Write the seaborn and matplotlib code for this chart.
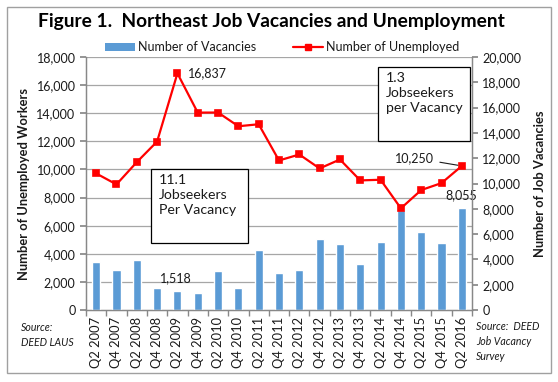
import numpy as np
import pandas as pd
import seaborn as sns
import matplotlib
matplotlib.use("Agg")
import matplotlib.pyplot as plt
import matplotlib.transforms as mtrans
from matplotlib.patches import Rectangle, Patch
from matplotlib.lines import Line2D

quarters = ["Q2 2007", "Q4 2007", "Q2 2008", "Q4 2008", "Q2 2009", "Q4 2009",
            "Q2 2010", "Q4 2010", "Q2 2011", "Q4 2011", "Q2 2012", "Q4 2012",
            "Q2 2013", "Q4 2013", "Q2 2014", "Q4 2014", "Q2 2015", "Q4 2015",
            "Q2 2016"]
vacancies = [3811, 3180, 3968, 1761, 1518, 1367, 3101, 1761, 4757, 2943,
             3180, 5624, 5230, 3653, 5388, 7911, 6176, 5309, 8055]
unemployed = [9716, 8936, 10520, 11986, 16837, 14043, 14050, 13073, 13215, 10638,
              11064, 10071, 10709, 9220, 9267, 7234, 8534, 9031, 10250]
left_ticks = list(range(0, 18001, 2000))
right_ticks = list(range(0, 20001, 2000))

df = pd.DataFrame({"quarter": quarters, "vacancies": vacancies, "unemployed": unemployed})

sns.set_theme(style="white")
plt.rcParams["font.family"] = ["Lato", "DejaVu Sans"]

W, H = 558, 382
fig = plt.figure(figsize=(W / 100, H / 100), dpi=100)
L, R, T, B = 86, 472, 57, 310
ax = fig.add_axes([L / W, 1 - B / H, (R - L) / W, (B - T) / H])
ax2 = ax.twinx()

bar_color = "#5B9BD5"
line_color = "#FF0000"
grid_color = "#A6A6A6"
text_color = "#1a1a1a"

sns.barplot(data=df, x="quarter", y="vacancies", ax=ax2, color=bar_color,
            width=0.4, saturation=1, zorder=3)
sns.pointplot(data=df, x="quarter", y="unemployed", ax=ax, color=line_color,
              markers="s", markersize=5, linewidth=1.6, errorbar=None)

ax.set_ylim(0, 18000)
ax2.set_ylim(0, 20000)
ax.set_xlim(-0.5, len(quarters) - 0.5)
ax.set_zorder(ax2.get_zorder() + 1)
ax.patch.set_visible(False)
ax2.patch.set_visible(False)

# gridlines at left-axis ticks drawn behind bars
tr = mtrans.blended_transform_factory(ax2.transAxes, ax.transData)
for v in left_ticks[1:]:
    ax2.plot([0, 1], [v, v], transform=tr, color=grid_color, lw=0.9, zorder=1)

ax.set_yticks(left_ticks)
ax.set_yticklabels([f"{v:,}" for v in left_ticks])
ax2.set_yticks(right_ticks)
ax2.set_yticklabels([f"{v:,}" for v in right_ticks])

ax.set_xticks(range(len(quarters)))
ax.set_xticklabels(quarters, rotation=90)
ax.set_xticks(np.arange(-0.5, len(quarters), 1), minor=True)
ax.tick_params(axis="x", which="major", length=0, pad=5, labelsize=9.3, colors=text_color)
ax.tick_params(axis="x", which="minor", length=4, color="#888888", direction="out", bottom=True)
ax.tick_params(axis="y", length=4, color="#888888", direction="out", labelsize=9,
               colors=text_color, left=True)
ax2.tick_params(axis="y", length=4, color="#888888", direction="out", labelsize=9,
                colors=text_color, right=True)
for a in (ax, ax2):
    a.tick_params(axis="y", colors="#888888", labelcolor=text_color)
    a.set_xlabel("")
    a.set_ylabel("")
    a.grid(False)
    a.spines["top"].set_visible(False)
    for s in ["left", "right", "bottom"]:
        a.spines[s].set_color("#888888")
        a.spines[s].set_linewidth(0.9)
ax2.tick_params(axis="x", length=0)

ax.set_ylabel("Number of Unemployed Workers", fontsize=9.3, fontweight="bold",
              color=text_color, labelpad=5)
ax2.set_ylabel("Number of Job Vacancies", fontsize=9.3, fontweight="bold",
               color=text_color, labelpad=9)

# data labels
ax.annotate(f"{unemployed[4]:,}", xy=(4, unemployed[4]), xytext=(11, 0),
            textcoords="offset pixels", ha="left", va="center", fontsize=9,
            color=text_color)
ax2.annotate(f"{vacancies[4]:,}", xy=(4, vacancies[4]), xytext=(-2, 13),
             textcoords="offset pixels", ha="center", va="center", fontsize=9,
             color=text_color)
ax2.annotate(f"{vacancies[18]:,}", xy=(18, vacancies[18]), xytext=(-1, 13),
             textcoords="offset pixels", ha="center", va="center", fontsize=9,
             color=text_color, zorder=5)
ax.annotate(f"{unemployed[18]:,}", xy=(18, unemployed[18]), xytext=(-28, 8),
            textcoords="offset pixels", ha="right", va="center", fontsize=9,
            color=text_color,
            arrowprops=dict(arrowstyle="-", color=text_color, lw=0.8,
                            shrinkA=2, shrinkB=3))

def fx(x):
    return x / W

def fy(y):
    return 1 - y / H

# text boxes
for (x0, y0, x1, y1, txt) in [
        (151, 169, 248, 243, "11.1\nJobseekers\nPer Vacancy"),
        (378, 67, 470, 141, "1.3\nJobseekers\nper Vacancy")]:
    fig.patches.append(Rectangle((fx(x0), fy(y1)), fx(x1 - x0), (y1 - y0) / H,
                                 transform=fig.transFigure, fill=True,
                                 facecolor="white", edgecolor="black", lw=0.9,
                                 zorder=10))
    fig.text(fx(x0 + 8), fy(y0 + 5), txt, ha="left", va="top", fontsize=10.2,
             color=text_color, linespacing=1.3, zorder=11)

# title
fig.text(fx(38), fy(21), "Figure 1.  Northeast Job Vacancies and Unemployment",
         ha="left", va="center", fontsize=13.8, fontweight="bold", color="black")

# legend
handles = [Patch(facecolor=bar_color, edgecolor="none"),
           Line2D([], [], color=line_color, lw=1.6, marker="s", markersize=5)]
fig.legend(handles, ["Number of Vacancies", "Number of Unemployed"],
           loc="center", bbox_to_anchor=(fx(282), fy(47)), ncol=2, frameon=False,
           fontsize=9, handlelength=2.4, handleheight=0.6, handletextpad=0.25,
           columnspacing=2.9, labelcolor=text_color)

# sources
fig.text(fx(21), fy(322), "Source:\nDEED LAUS", ha="left", va="top", fontsize=7.6,
         style="italic", color=text_color, linespacing=1.45)
fig.text(fx(476), fy(321), "Source:  DEED\nJob Vacancy\nSurvey", ha="left", va="top",
         fontsize=7.6, style="italic", color=text_color, linespacing=1.45)

# outer border
fig.patches.append(Rectangle((fx(7), fy(373)), fx(551 - 7), (373 - 7) / H,
                             transform=fig.transFigure, fill=False,
                             edgecolor="#A0A0A0", lw=1.0))

fig.savefig("out.png", dpi=100)
